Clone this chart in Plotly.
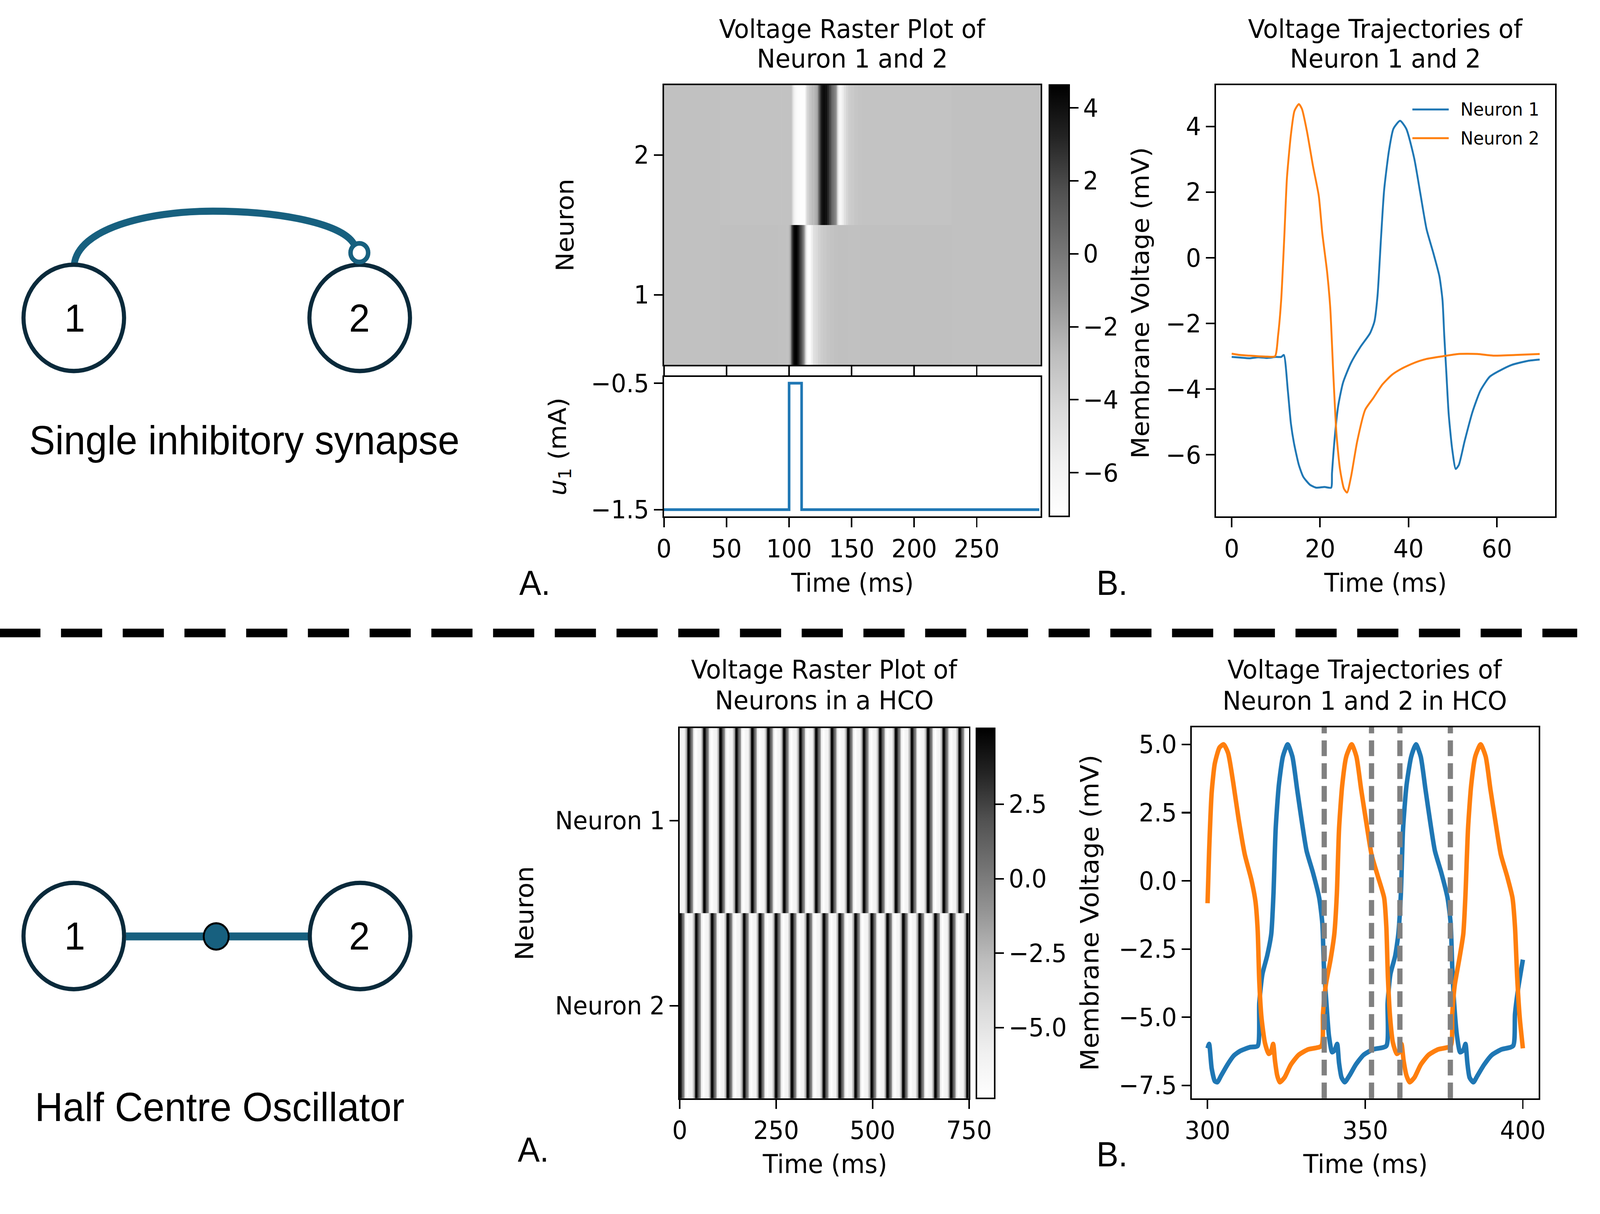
import plotly.graph_objects as go

W, H = 4299, 3108

# ---------------- data ----------------
# Single inhibitory synapse: voltage trajectories (panel B, top)
syn_n1_t = [0, 2, 4, 6, 8, 10, 11.2, 11.8, 12.7, 13.4, 14.1, 15.2, 16.2, 17.7, 19.1, 21, 22.5,
            22.7, 23.4, 24.1, 25.2, 27.0, 29.1, 31.3, 32.3, 33.0, 33.8, 34.5, 35.6, 36.6, 38.1,
            39.5, 41.3, 42.7, 44.1, 45.6, 47.0, 47.7, 48.1, 48.6, 49.1, 49.9, 50.7, 51.4, 52.7,
            54.5, 56.3, 58.4, 60.6, 63.4, 67.0, 69.7]
syn_n1_v = [-3.02, -3.04, -3.06, -3.03, -3.05, -3.02, -3.02, -2.96, -4.04, -5.05, -5.65, -6.31,
            -6.67, -6.91, -7.0, -6.98, -7.0, -6.55, -5.35, -4.51, -3.8, -3.2, -2.72, -2.3, -1.94,
            -1.16, 0.63, 2.07, 3.27, 3.93, 4.17, 3.93, 3.03, 1.95, 0.87, 0.16, -0.56, -1.28,
            -2.36, -3.56, -4.75, -5.83, -6.43, -6.31, -5.59, -4.69, -4.04, -3.62, -3.44, -3.26,
            -3.14, -3.1]
syn_n2_t = [0, 1.9, 4, 6.2, 8, 9.8, 10.5, 11.2, 11.9, 12.5, 13.4, 14.2, 15.2, 15.9, 17.0, 18.4,
            19.7, 20.5, 21.6, 22.3, 23.0, 23.7, 24.5, 25.4, 26.1, 27.0, 28.4, 30.2, 32.0, 34.1,
            36.3, 38.4, 41.3, 44.1, 47.7, 51.3, 55.6, 59.2, 64.2, 69.7]
syn_n2_v = [-2.92, -2.96, -2.98, -3.0, -3.01, -3.0, -2.36, -1.28, 0.63, 2.43, 3.75, 4.47, 4.68,
            4.53, 3.87, 2.79, 1.89, 0.75, -0.44, -1.52, -3.56, -5.35, -6.43, -7.03, -7.15, -6.67,
            -5.59, -4.63, -4.28, -3.86, -3.56, -3.38, -3.2, -3.08, -3.0, -2.93, -2.93, -2.98,
            -2.96, -2.93]
syn_labels = ["Neuron 1", "Neuron 2"]

# Raster (panel A, top): rows show the same spikes, the window starting at 90 ms, rest at -3 mV
raster_window_start_ms = 90
raster_rest_mv = -3.0
raster_rest_times = [0, 300]

# Stimulus current u1
stim_t = [0, 100, 100, 110, 110, 300]
stim_u = [-1.5, -1.5, -0.5, -0.5, -1.5, -1.5]

# Half centre oscillator: trajectories (panel B, bottom)
hco_n1_t = [300, 300.5, 301.3, 302.3, 303.1, 304.3, 306.3, 308.3, 310.3, 313.4,
            315.9, 316.4, 317.4, 318.9, 320.2, 320.9, 321.6, 322.6, 323.9, 325.4,
            326.9, 328.4, 329.9, 331.4, 333.4, 335.4, 336.4, 336.9, 337.7, 338.5,
            339.5, 340.3, 341.1, 341.7, 342.5, 343.5, 345.0, 347.0, 349.5, 352.5,
            356.7, 357.1, 358.0, 359.5, 360.5, 361.3, 362.0, 363.1, 364.6, 366.1,
            367.6, 369.1, 370.6, 372.1, 374.1, 376.1, 377.1, 377.6, 378.2, 379.1,
            380.1, 381.1, 381.8, 382.4, 383.1, 384.3, 385.6, 387.7, 390.2, 393.2,
            396.9, 397.5, 398.5, 400.0]
hco_n1_v = [-6.14, -5.98, -6.87, -7.34, -7.38, -7.14, -6.74, -6.41, -6.24, -6.10,
            -6.05, -4.48, -3.42, -2.75, -1.95, -0.49, 1.90, 3.50, 4.56, 5.0,
            4.56, 3.36, 2.17, 1.10, 0.31, -0.62, -1.56, -3.15, -4.48, -5.68,
            -6.28, -6.21, -5.98, -6.68, -7.21, -7.38, -7.14, -6.74, -6.38, -6.18,
            -6.05, -4.48, -3.42, -2.75, -1.95, -0.49, 1.90, 3.50, 4.56, 5.0,
            4.56, 3.36, 2.17, 1.10, 0.31, -0.62, -1.56, -3.15, -4.48, -5.68,
            -6.28, -6.21, -5.98, -6.68, -7.21, -7.38, -7.14, -6.74, -6.38, -6.18,
            -6.05, -4.88, -3.95, -2.89]
hco_n2_t = [300, 300.5, 301.3, 302.3, 303.8, 305.1, 306.5, 308.1, 309.8, 311.8,
            313.9, 315.2, 315.9, 316.4, 317.1, 318.2, 319.4, 320.1, 320.8, 321.4,
            322.1, 322.9, 324.4, 326.4, 328.9, 331.9, 336.1, 336.6, 337.5, 339.0,
            340.2, 341.0, 341.7, 342.7, 344.0, 345.7, 347.2, 348.7, 350.3, 352.0,
            354.0, 356.0, 356.7, 357.2, 357.9, 358.8, 360.0, 360.8, 361.5, 362.2,
            363.1, 364.1, 365.6, 367.6, 370.1, 373.1, 377.1, 377.6, 378.4, 379.8,
            381.1, 381.8, 382.6, 383.6, 384.9, 386.6, 388.2, 389.7, 391.3, 393.0,
            395.0, 396.7, 397.5, 398.2, 399.0, 400.0]
hco_n2_v = [-0.82, 1.10, 3.23, 4.30, 4.89, 5.0, 4.69, 3.63, 2.30, 0.97,
            0.04, -0.76, -1.82, -3.68, -5.01, -5.94, -6.34, -6.28, -5.98, -6.61,
            -7.14, -7.38, -7.21, -6.74, -6.38, -6.18, -6.05, -4.88, -3.82, -2.89,
            -1.95, -0.49, 1.90, 3.50, 4.56, 5.0, 4.56, 3.36, 2.17, 0.97,
            0.17, -0.62, -1.69, -3.55, -5.01, -5.94, -6.34, -6.28, -5.98, -6.61,
            -7.14, -7.38, -7.21, -6.74, -6.38, -6.18, -6.05, -4.88, -3.82, -2.89,
            -1.95, -0.49, 1.90, 3.50, 4.56, 5.0, 4.56, 3.36, 2.17, 0.97,
            0.17, -0.62, -1.69, -3.55, -5.01, -6.14]
hco_marker_times = [337, 352, 361, 377]

# HCO raster (panel A, bottom): spike peak times and the voltage profile around a peak
hco_raster_labels = ["Neuron 1", "Neuron 2"]
hco_n1_spike_times = [-19, 23, 64, 106, 147, 188, 230, 271, 313, 354, 395, 437, 478, 520,
                      561, 602, 644, 685, 726]
hco_n2_spike_times = [1, 43, 84, 125, 167, 208, 250, 291, 332, 374, 415, 456, 498, 539,
                      580, 622, 663, 704, 746]
hco_profile_offset = [-9.0, -8.0, -6.5, -5.2, -4.5, -3.8, -2.8, -1.5, 0, 1.5, 3.0, 4.5, 6.0,
                      8.0, 10.0, 11.0, 11.5, 12.3, 13.1, 14.1, 14.9, 15.7, 16.3, 17.1, 18.1,
                      19.6, 21.6, 24.1, 27.1, 31.3]
hco_profile_v = [-4.48, -3.42, -2.75, -1.95, -0.49, 1.90, 3.50, 4.56, 5.0, 4.56, 3.36, 2.17,
                 1.10, 0.31, -0.62, -1.56, -3.15, -4.48, -5.68, -6.28, -6.21, -5.98, -6.68,
                 -7.21, -7.38, -7.14, -6.74, -6.38, -6.18, -6.05]

# ---------------- helpers ----------------
def px(x):
    return x / W

def py(y):
    return 1 - y / H

FONT = "DejaVu Sans"
BLUE = "#1f77b4"
ORANGE = "#ff7f0e"
GREYS = [[0, "#ffffff"], [0.125, "#f0f0f0"], [0.25, "#d9d9d9"], [0.375, "#bdbdbd"],
         [0.5, "#969696"], [0.625, "#737373"], [0.75, "#525252"], [0.875, "#252525"],
         [1, "#000000"]]

def minus(v, fmt):
    s = fmt.format(v)
    return s.replace("-", "\u2212")

def axis(x0, x1, rng, tickvals, ticktext=None, labels=True, anchor=None, horiz=True):
    d = dict(showline=True, linecolor="black", linewidth=4, mirror=True,
             ticks="outside", ticklen=23, tickwidth=4, tickcolor="black",
             showgrid=False, zeroline=False, range=rng, tickvals=tickvals,
             showticklabels=labels, anchor=anchor,
             tickfont=dict(family=FONT, size=64, color="black"))
    if ticktext is not None:
        d["ticktext"] = ticktext
    if horiz:
        d["domain"] = [px(x0), px(x1)]
    else:
        d["domain"] = [py(x1), py(x0)]
    return d

fig = go.Figure()

# ---- top A raster ----
top_rows = [(syn_n2_t, syn_n2_v, [0.5, 1.5]), (syn_n1_t, syn_n1_v, [1.5, 2.5])]
for tt, vv, yedges in top_rows:
    xs = [raster_rest_times[0]] + [t + raster_window_start_ms for t in tt] + [raster_rest_times[1]]
    zs = [raster_rest_mv] + list(vv) + [raster_rest_mv]
    fig.add_trace(go.Heatmap(x=xs, y=yedges, z=[zs], coloraxis="coloraxis",
                             xaxis="x", yaxis="y", hoverinfo="skip"))

# ---- top A stimulus ----
fig.add_trace(go.Scatter(x=stim_t, y=stim_u, mode="lines", line=dict(color=BLUE, width=7),
                         xaxis="x2", yaxis="y2", showlegend=False))

# ---- top B trajectories ----
fig.add_trace(go.Scatter(x=syn_n1_t, y=syn_n1_v, mode="lines",
                         line=dict(color=BLUE, width=5, shape="spline", smoothing=0.6),
                         name=syn_labels[0], xaxis="x3", yaxis="y3", showlegend=False))
fig.add_trace(go.Scatter(x=syn_n2_t, y=syn_n2_v, mode="lines",
                         line=dict(color=ORANGE, width=5, shape="spline", smoothing=0.6),
                         name=syn_labels[1], xaxis="x3", yaxis="y3", showlegend=False))

# ---- bottom A raster ----
for spikes, yedges in [(hco_n1_spike_times, [-0.5, 0.5]), (hco_n2_spike_times, [0.5, 1.5])]:
    xs, zs = [], []
    for s in spikes:
        for o, v in zip(hco_profile_offset, hco_profile_v):
            xs.append(s + o)
            zs.append(v)
    fig.add_trace(go.Heatmap(x=xs, y=yedges, z=[zs], coloraxis="coloraxis2",
                             xaxis="x4", yaxis="y4", hoverinfo="skip"))

# ---- bottom B trajectories ----
fig.add_trace(go.Scatter(x=hco_n1_t, y=hco_n1_v, mode="lines",
                         line=dict(color=BLUE, width=12, shape="spline", smoothing=0.6),
                         xaxis="x5", yaxis="y5", showlegend=False))
fig.add_trace(go.Scatter(x=hco_n2_t, y=hco_n2_v, mode="lines",
                         line=dict(color=ORANGE, width=12, shape="spline", smoothing=0.6),
                         xaxis="x5", yaxis="y5", showlegend=False))

# ---------------- layout ----------------
ticks_syn = [-6, -4, -2, 0, 2, 4]
ticks_hco = [-7.5, -5.0, -2.5, 0.0, 2.5, 5.0]

layout = dict(
    width=W, height=H, margin=dict(l=0, r=0, t=0, b=0),
    paper_bgcolor="white", plot_bgcolor="white", showlegend=False,
    xaxis=axis(1811, 2837, [0, 301], [0, 50, 100, 150, 200, 250], labels=False, anchor="y"),
    yaxis=axis(219, 940, [0.5, 2.5], [1, 2], ["1", "2"], anchor="x", horiz=False),
    xaxis2=axis(1811, 2837, [0, 301], [0, 50, 100, 150, 200, 250], anchor="y2"),
    yaxis2=axis(971, 1331, [-1.555, -0.45], [-1.5, -0.5], ["\u22121.5", "\u22120.5"],
                anchor="x2", horiz=False),
    xaxis3=axis(3315, 4239, [-3.55, 73.2], [0, 20, 40, 60], anchor="y3"),
    yaxis3=axis(219, 1331, [-7.88, 5.26], ticks_syn, [minus(v, "{:d}") for v in ticks_syn],
                anchor="x3", horiz=False),
    xaxis4=axis(1854, 2642, [0, 750], [0, 250, 500, 750], anchor="y4"),
    yaxis4=axis(1876, 2830, [1.5, -0.5], [0, 1], hco_raster_labels, anchor="x4", horiz=False),
    xaxis5=axis(3249, 4194, [295, 405], [300, 350, 400], anchor="y5"),
    yaxis5=axis(1874, 2830, [-7.97, 5.63], ticks_hco, [minus(v, "{:.1f}") for v in ticks_hco],
                anchor="x5", horiz=False),
    coloraxis=dict(colorscale=GREYS, cmin=-7.2, cmax=4.62,
                   colorbar=dict(x=px(2861), xanchor="left", y=py(1331), yanchor="bottom",
                                 len=(1331 - 219) / H, lenmode="fraction",
                                 thickness=53, thicknessmode="pixels", xpad=0, ypad=0,
                                 outlinewidth=4, outlinecolor="black",
                                 ticks="outside", ticklen=23, tickwidth=4, tickcolor="black",
                                 tickvals=ticks_syn, ticktext=[minus(v, "{:d}") for v in ticks_syn],
                                 tickfont=dict(family=FONT, size=64, color="black"))),
    coloraxis2=dict(colorscale=GREYS, cmin=-7.37, cmax=5.05,
                    colorbar=dict(x=px(2662), xanchor="left", y=py(2830), yanchor="bottom",
                                  len=(2830 - 1876) / H, lenmode="fraction",
                                  thickness=49, thicknessmode="pixels", xpad=0, ypad=0,
                                  outlinewidth=4, outlinecolor="black",
                                  ticks="outside", ticklen=23, tickwidth=4, tickcolor="black",
                                  tickvals=[2.5, 0.0, -2.5, -5.0],
                                  ticktext=["2.5", "0.0", "\u22122.5", "\u22125.0"],
                                  tickfont=dict(family=FONT, size=64, color="black"))),
)
fig.update_layout(**layout)

# ---------------- annotations ----------------
anns = []

def ann(text, x, y, size=65, angle=0, xanchor="center", family=FONT, yanchor="middle"):
    anns.append(dict(text=text, x=px(x), y=py(y), xref="paper", yref="paper",
                     showarrow=False, xanchor=xanchor, yanchor=yanchor, textangle=angle,
                     font=dict(family=family, size=size, color="black")))

# top A
ann("Voltage Raster Plot of", 2324, 74, 66)
ann("Neuron 1 and 2", 2324, 151, 66)
ann("Neuron", 1541, 580, 65, -90)
ann("<i>u</i><sub>1</sub> (mA)", 1527, 1151, 65, -90)
ann("Time (ms)", 2324, 1502, 65)
ann("Membrane Voltage (mV)", 3109, 780, 65, -90)
ann("A.", 1459, 1502, 88, family="Liberation Sans")
# top B
ann("Voltage Trajectories of", 3777, 74, 66)
ann("Neuron 1 and 2", 3777, 151, 66)
ann("Time (ms)", 3777, 1502, 65)
ann("B.", 3032, 1502, 88, family="Liberation Sans")
ann(syn_labels[0], 3979, 282, 46, xanchor="left")
ann(syn_labels[1], 3979, 356, 46, xanchor="left")
# bottom A
ann("Voltage Raster Plot of", 2248, 1725, 66)
ann("Neurons in a HCO", 2248, 1805, 66)
ann("Neuron", 1432, 2353, 66, -90)
ann("Time (ms)", 2249, 3000, 66)
ann("Membrane Voltage (mV)", 2972, 2352, 66, -90)
ann("A.", 1455, 2963, 88, family="Liberation Sans")
# bottom B
ann("Voltage Trajectories of", 3721, 1725, 66)
ann("Neuron 1 and 2 in HCO", 3721, 1806, 66)
ann("Time (ms)", 3722, 3000, 66)
ann("B.", 3032, 2975, 88, family="Liberation Sans")
# diagrams
ann("1", 206, 819, 100, family="Liberation Sans")
ann("2", 982, 819, 100, family="Liberation Sans")
ann("Single inhibitory synapse", 668, 1134, 104, family="Liberation Sans")
ann("1", 206, 2412, 100, family="Liberation Sans")
ann("2", 982, 2412, 100, family="Liberation Sans")
ann("Half Centre Oscillator", 600, 2853, 104, family="Liberation Sans")

# ---------------- shapes ----------------
shapes = []
NAVY = "#0a2a3b"
TEAL = "#17607f"

def circle(cx, cy, r, color, width, fill="white"):
    shapes.append(dict(type="circle", xref="paper", yref="paper",
                       x0=px(cx - r), x1=px(cx + r), y0=py(cy + r), y1=py(cy - r),
                       line=dict(color=color, width=width), fillcolor=fill, layer="above"))

def seg(x0, y0, x1, y1, color, width, dash="solid"):
    shapes.append(dict(type="line", xref="paper", yref="paper",
                       x0=px(x0), y0=py(y0), x1=px(x1), y1=py(y1),
                       line=dict(color=color, width=width, dash=dash), layer="above"))

# top diagram
pts = [(204, 682), (215, 590), (400, 544), (582, 544), (760, 544), (940, 575), (968, 632)]
p = [f"{px(x):.5f},{py(y):.5f}" for x, y in pts]
shapes.append(dict(type="path", xref="paper", yref="paper",
                   path=f"M{p[0]} C{p[1]} {p[2]} {p[3]} C{p[4]} {p[5]} {p[6]}",
                   line=dict(color=TEAL, width=18), layer="above"))
circle(203, 819, 137, NAVY, 11)
circle(982, 819, 137, NAVY, 11)
circle(981, 651, 24, TEAL, 12)
# bottom diagram
seg(345, 2413, 842, 2413, TEAL, 20)
circle(203, 2412, 137, NAVY, 11)
circle(983, 2412, 137, NAVY, 11)
circle(591, 2413, 34, "black", 5, fill=TEAL)
# separator
seg(0, 1631, W, 1631, "black", 22, dash="110px,55px")
# legend samples (top B)
seg(3850, 282, 3949, 282, BLUE, 5)
seg(3850, 356, 3949, 356, ORANGE, 5)
# dashed markers in HCO trajectories
for t in hco_marker_times:
    shapes.append(dict(type="line", xref="x5", yref="y5 domain", x0=t, x1=t, y0=0, y1=1,
                       line=dict(color="#808080", width=14, dash="40px,18px"), layer="above"))

fig.update_layout(annotations=anns, shapes=shapes)

# fit the fixed-size figure to the browser viewport
fit_js = """
(function(){
  var W = %d, H = %d, T = 21;
  var de = document.documentElement, b = document.body;
  de.style.margin = '0'; de.style.padding = '0'; de.style.overflow = 'hidden';
  b.style.margin = '0'; b.style.padding = '0'; b.style.overflow = 'hidden';
  var iw = window.innerWidth, ih = window.innerHeight;
  var gd = document.getElementById('{plot_id}');
  var wrap = gd.parentElement;
  wrap.style.position = 'relative';
  wrap.style.width = iw + 'px';
  wrap.style.height = ih + 'px';
  wrap.style.overflow = 'hidden';
  gd.style.position = 'absolute';
  gd.style.left = '0px';
  gd.style.top = '0px';
  gd.style.transformOrigin = '0 0';
  gd.style.transform = 'translate(' + (-T) + 'px,' + (-T) + 'px) scale(' +
                       ((iw + T) / W) + ',' + ((ih + T) / H) + ')';
})();
""" % (W, H)

fig.write_html("out.html", post_script=fit_js,
               config={"responsive": False, "displayModeBar": False})
